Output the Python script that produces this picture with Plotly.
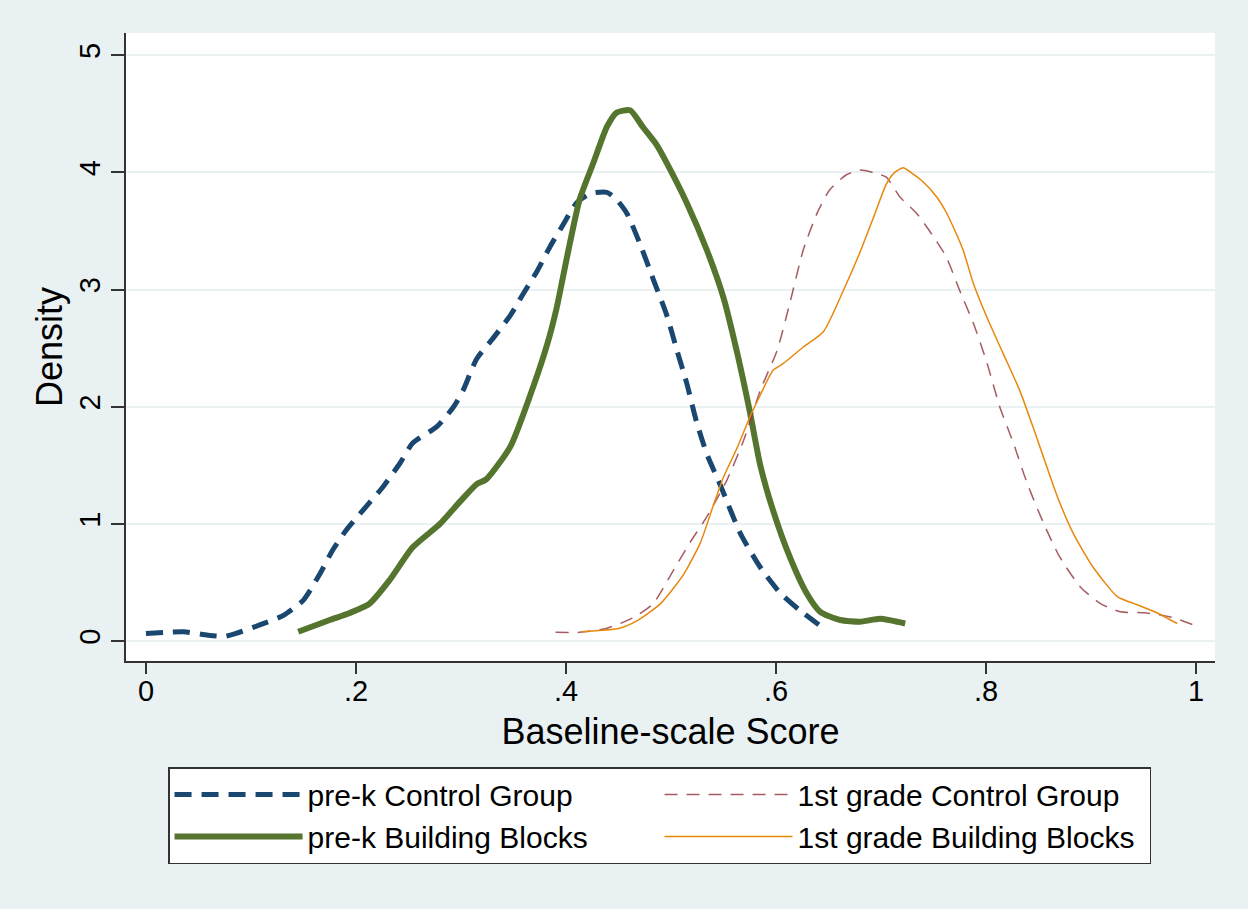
import plotly.graph_objects as go

# ---- data ----
prek_ctrl_x = [0.0, 0.018, 0.036, 0.059, 0.075, 0.086, 0.109, 0.131, 0.150, 0.166, 0.178, 0.191,
               0.207, 0.226, 0.242, 0.254, 0.277, 0.293, 0.302, 0.315, 0.331, 0.347, 0.359, 0.372,
               0.385, 0.397, 0.410, 0.423, 0.439, 0.448, 0.458, 0.470, 0.483, 0.496, 0.506, 0.515,
               0.524, 0.534, 0.547, 0.566, 0.585, 0.604, 0.623, 0.645]
prek_ctrl_y = [0.065, 0.075, 0.08, 0.05, 0.04, 0.066, 0.14, 0.22, 0.35, 0.58, 0.78, 0.95,
               1.12, 1.32, 1.52, 1.69, 1.83, 2.0, 2.14, 2.41, 2.59, 2.78, 2.96, 3.15,
               3.37, 3.55, 3.74, 3.82, 3.83, 3.77, 3.65, 3.40, 3.09, 2.78, 2.47, 2.20,
               1.88, 1.60, 1.33, 0.92, 0.63, 0.41, 0.26, 0.11]

prek_bb_x = [0.145, 0.175, 0.194, 0.213, 0.232, 0.254, 0.280, 0.299, 0.315, 0.324, 0.347, 0.366,
             0.382, 0.391, 0.401, 0.413, 0.426, 0.439, 0.448, 0.461, 0.473, 0.486, 0.496, 0.515,
             0.534, 0.550, 0.563, 0.575, 0.585, 0.597, 0.613, 0.629, 0.642, 0.661, 0.680, 0.699, 0.723]
prek_bb_y = [0.08, 0.18, 0.24, 0.32, 0.52, 0.80, 1.0, 1.19, 1.34, 1.38, 1.66, 2.10,
             2.53, 2.84, 3.28, 3.77, 4.08, 4.39, 4.51, 4.53, 4.39, 4.24, 4.08, 3.74,
             3.34, 2.93, 2.46, 1.96, 1.50, 1.12, 0.72, 0.41, 0.25, 0.18, 0.165, 0.19, 0.15]

g1_ctrl_x = [0.390, 0.413, 0.439, 0.464, 0.483, 0.502, 0.518, 0.534, 0.553, 0.569, 0.585, 0.601,
             0.613, 0.626, 0.639, 0.651, 0.667, 0.680, 0.696, 0.705, 0.718, 0.734, 0.750, 0.762,
             0.775, 0.788, 0.801, 0.813, 0.826, 0.839, 0.855, 0.870, 0.890, 0.909, 0.928, 0.953,
             0.978, 1.0]
g1_ctrl_y = [0.075, 0.075, 0.11, 0.2, 0.32, 0.6, 0.84, 1.06, 1.37, 1.71, 2.14, 2.48,
             2.88, 3.34, 3.65, 3.85, 3.98, 4.02, 3.99, 3.96, 3.79, 3.65, 3.45, 3.28,
             2.99, 2.71, 2.37, 2.0, 1.69, 1.35, 1.0, 0.72, 0.46, 0.32, 0.25, 0.24,
             0.20, 0.13]

g1_bb_x = [0.415, 0.451, 0.467, 0.490, 0.512, 0.528, 0.540, 0.550, 0.563, 0.575, 0.585, 0.597,
           0.607, 0.626, 0.645, 0.664, 0.680, 0.693, 0.705, 0.713, 0.721, 0.730, 0.740, 0.753,
           0.762, 0.769, 0.778, 0.788, 0.801, 0.816, 0.832, 0.845, 0.855, 0.868, 0.883, 0.902,
           0.925, 0.944, 0.963, 0.982]
g1_bb_y = [0.08, 0.11, 0.17, 0.32, 0.57, 0.84, 1.15, 1.40, 1.65, 1.91, 2.10, 2.31,
           2.37, 2.51, 2.64, 2.99, 3.32, 3.62, 3.90, 4.0, 4.04, 3.99, 3.92, 3.79,
           3.66, 3.53, 3.34, 3.05, 2.76, 2.46, 2.14, 1.82, 1.56, 1.23, 0.92, 0.63,
           0.38, 0.31, 0.24, 0.15]

x_ticks = [0, 0.2, 0.4, 0.6, 0.8, 1.0]
x_tick_labels = ["0", ".2", ".4", ".6", ".8", "1"]
y_ticks = [0, 1, 2, 3, 4, 5]

FONT = "Liberation Sans, Arial, Helvetica, sans-serif"
BG = "#EAF1F3"

fig = go.Figure()
fig.add_trace(go.Scatter(x=prek_ctrl_x, y=prek_ctrl_y, mode="lines", name="pre-k Control Group",
                         line=dict(color="#1A476F", width=5, dash="17px,10px", shape="spline", smoothing=0.6),
                         legendrank=1))
fig.add_trace(go.Scatter(x=prek_bb_x, y=prek_bb_y, mode="lines", name="pre-k Building Blocks",
                         line=dict(color="#55752F", width=6, shape="spline", smoothing=0.6),
                         legendrank=3))
fig.add_trace(go.Scatter(x=g1_ctrl_x, y=g1_ctrl_y, mode="lines", name="1st grade Control Group",
                         line=dict(color="#90353B", width=1.5, dash="13px,9px", shape="spline", smoothing=0.6),
                         opacity=0.8, legendrank=2))
fig.add_trace(go.Scatter(x=g1_bb_x, y=g1_bb_y, mode="lines", name="1st grade Building Blocks",
                         line=dict(color="#E8870E", width=1.5, shape="spline", smoothing=0.6),
                         legendrank=4))

fig.update_layout(
    width=1248, height=909,
    margin=dict(l=126, r=33, t=33, b=248, pad=0),
    paper_bgcolor=BG, plot_bgcolor="white",
    font=dict(family=FONT, size=30, color="black"),
    showlegend=True,
    legend=dict(
        orientation="h", x=0.0386, y=-0.1688, xanchor="left", yanchor="top",
        bgcolor="white", bordercolor="#333333", borderwidth=1.5,
        font=dict(family=FONT, size=30, color="black"),
        itemwidth=128, entrywidth=347, entrywidthmode="pixels",
        traceorder="normal",
    ),
    xaxis=dict(
        range=[-0.019, 1.018], tickvals=x_ticks, ticktext=x_tick_labels,
        ticks="outside", ticklen=11, tickwidth=1.5, tickcolor="#333333",
        showline=True, linecolor="#333333", linewidth=1.5,
        showgrid=False, zeroline=False, ticklabelstandoff=-8,
        title=dict(text="Baseline-scale Score", standoff=13),
        tickfont=dict(size=29),
    ),
    yaxis=dict(
        range=[-0.17, 5.19], tickvals=y_ticks,
        ticks="outside", ticklen=13, tickwidth=1.5, tickcolor="#333333",
        showline=True, linecolor="#333333", linewidth=1.5,
        showgrid=True, gridcolor=BG, gridwidth=1.5, zeroline=False,
        tickangle=-90,
        title=dict(text="Density", standoff=0),
        tickfont=dict(size=29),
    ),
)

fig.write_html("out.html")
